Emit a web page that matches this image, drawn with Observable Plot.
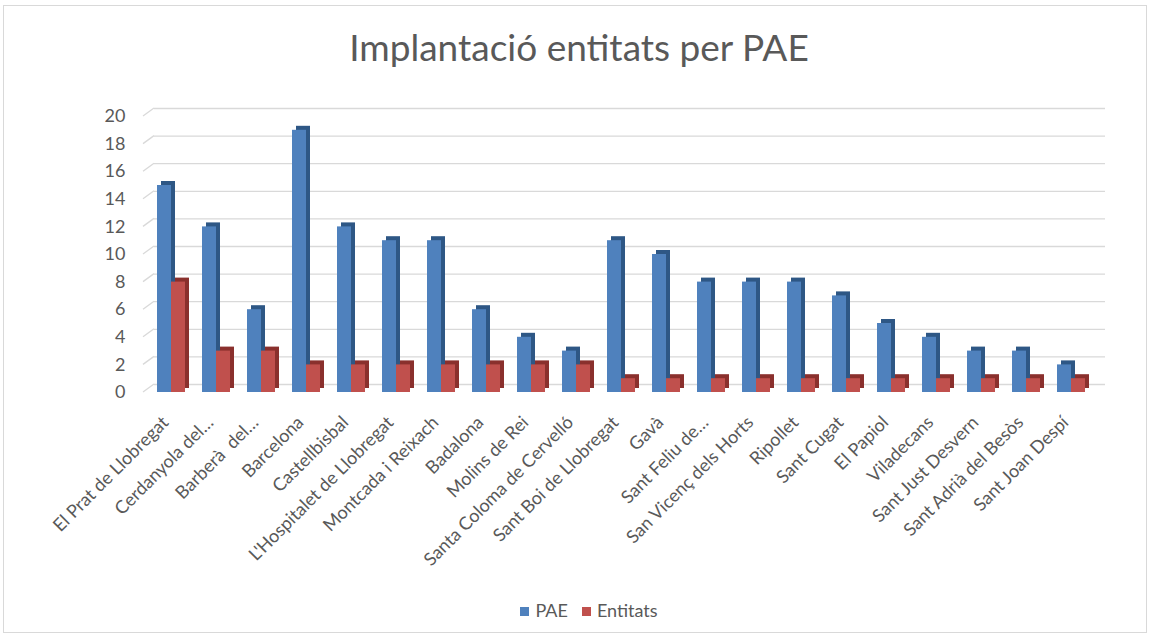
<!DOCTYPE html>
<html><head><meta charset="utf-8">
<script src="https://cdn.jsdelivr.net/npm/d3@7"></script>
<script src="https://cdn.jsdelivr.net/npm/@observablehq/plot@0.6"></script>
<style>
body{margin:0;background:#fff;font-family:Lato,"Open Sans",sans-serif;}
#wrap{position:relative;width:1150px;height:636px;overflow:hidden;background:#fff;}
#frame{position:absolute;left:3px;top:5px;width:1144px;height:628px;border:1px solid #d9d9d9;box-sizing:border-box;}
#title{position:absolute;top:24px;left:4px;width:1150px;text-align:center;font-size:37px;font-weight:400;color:#595959;}
#chart{position:absolute;left:0;top:80px;}
#legend{position:absolute;top:599px;left:14px;width:1150px;text-align:center;font-size:18px;color:#595959;}
#legend span.item{display:inline-block;margin:0 7px;}
#legend span.sw{display:inline-block;width:9px;height:9px;margin-right:6px;vertical-align:1px;}
</style>
</head><body>
<div id="wrap">
<div id="frame"></div>
<div id="title">Implantació entitats per PAE</div>
<div id="chart"></div>
<div id="legend"></div>
</div>
<script>
const categories = ["El Prat de Llobregat","Cerdanyola del…","Barberà  del…","Barcelona","Castellbisbal","L'Hospitalet de Llobregat","Montcada i Reixach","Badalona","Molins de Rei","Santa Coloma de Cervelló","Sant Boi de Llobregat","Gavà","Sant Feliu de…","San Vicenç dels Horts","Ripollet","Sant Cugat","El Papiol","Viladecans","Sant Just Desvern","Sant Adrià del Besòs","Sant Joan Despí"];
const pae = [15,12,6,19,12,11,11,6,4,3,11,10,8,8,8,7,5,4,3,3,2];
const entitats = [8,3,3,2,2,2,2,2,2,2,1,1,1,1,1,1,1,1,1,1,1];
const yTicks = [0,2,4,6,8,10,12,14,16,18,20];
const seriesNames = ["PAE","Entitats"];
const frontColors = ["#4F81BD","#C0504D"];
const sideColors = ["#2E5785","#8A302D"];

const paeRows = categories.map((c,i)=>({category:c, value:pae[i]}));
const entRows = categories.map((c,i)=>({category:c, value:entitats[i]}));

const ML = 145, MR = 54, MT = 36, MB = 208, W = 1150, H = 520;
const plot = Plot.plot({
  width: W, height: H,
  marginLeft: ML, marginRight: MR, marginTop: MT, marginBottom: MB,
  style: {fontFamily: "Lato, 'Open Sans', sans-serif", color: "#595959", background: "transparent"},
  x: {domain: categories, paddingInner: 0.38, paddingOuter: 0.19, label: null},
  y: {domain: [0,20], label: null},
  marks: [
    Plot.ruleY(yTicks, {stroke: "#d9d9d9", strokeWidth: 1.3, dx: 9, dy: -8}),
    Plot.barY(paeRows, {x: "category", y: "value", fill: sideColors[0], insetRight: 14, dx: 4, dy: -4}),
    Plot.barY(paeRows, {x: "category", y: "value", fill: frontColors[0], insetRight: 14}),
    Plot.barY(entRows, {x: "category", y: "value", fill: sideColors[1], insetLeft: 14, dx: 4, dy: -4}),
    Plot.barY(entRows, {x: "category", y: "value", fill: frontColors[1], insetLeft: 14}),
    Plot.axisY(yTicks, {tickSize: 0, tickPadding: 20, fontSize: 18, fill: "#595959", label: null}),
    Plot.axisX({tickRotate: -45, tickSize: 0, tickPadding: 27, dx: -6, fontSize: 18, fill: "#595959", label: null})
  ]
});
document.getElementById("chart").appendChild(plot);

// slanted left part of the gridlines (3D wall), positioned with the plot's y scale
const ys = plot.scale("y");
const svg = d3.select(plot);
svg.insert("g", ":first-child").selectAll("line").data(yTicks).join("line")
  .attr("x1", ML - 2).attr("y1", d => ys.apply(d))
  .attr("x2", ML + 9).attr("y2", d => ys.apply(d) - 8)
  .attr("stroke", "#d9d9d9").attr("stroke-width", 1.3);

const legend = document.getElementById("legend");
seriesNames.forEach((s,i)=>{
  const item = document.createElement("span");
  item.className = "item";
  item.innerHTML = `<span class="sw" style="background:${frontColors[i]}"></span>${s}`;
  legend.appendChild(item);
});
</script>
</body></html>
